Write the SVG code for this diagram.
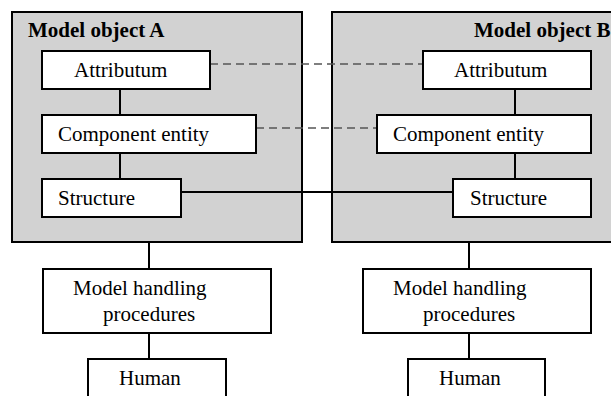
<svg xmlns="http://www.w3.org/2000/svg" width="611" height="396" viewBox="0 0 611 396">
  <style>
    .group { fill: #d2d2d2; stroke: #000; stroke-width: 2; }
    .box { fill: #fff; stroke: #000; stroke-width: 2; }
    .lbl { font-family: "Liberation Serif", "Times New Roman", serif; font-size: 21px; fill: #000; }
    .title { font-family: "Liberation Serif", "Times New Roman", serif; font-size: 21px; font-weight: bold; fill: #000; }
    .link { stroke: #000; stroke-width: 2; fill: none; }
    .dash { stroke: #555; stroke-width: 1.3; stroke-dasharray: 8 5; fill: none; }
  </style>
  <rect width="611" height="396" fill="#fff"/>

  <!-- containers -->
  <g id="model-object-a">
    <rect class="group" x="12" y="12" width="290" height="230"/>
    <text class="title" x="28" y="37">Model object A</text>
  </g>
  <g id="model-object-b">
    <rect class="group" x="332" y="12" width="300" height="230"/>
    <text class="title" x="474" y="37">Model object B</text>
  </g>

  <!-- connectors -->
  <g id="connectors">
    <line class="dash" x1="210" y1="64" x2="423" y2="64"/>
    <line class="dash" x1="256" y1="128" x2="377" y2="128"/>
    <line class="link" x1="181" y1="192" x2="453" y2="192"/>
    <line class="link" x1="120" y1="89" x2="120" y2="115"/>
    <line class="link" x1="120" y1="153" x2="120" y2="179"/>
    <line class="link" x1="515" y1="89" x2="515" y2="115"/>
    <line class="link" x1="515" y1="153" x2="515" y2="179"/>
    <line class="link" x1="149" y1="242" x2="149" y2="269"/>
    <line class="link" x1="149" y1="333" x2="149" y2="359"/>
    <line class="link" x1="469" y1="242" x2="469" y2="269"/>
    <line class="link" x1="469" y1="333" x2="469" y2="359"/>
  </g>

  <!-- nodes of A -->
  <g id="attributum-a">
    <rect class="box" x="42" y="51" width="168" height="38"/>
    <text class="lbl" x="74" y="77">Attributum</text>
  </g>
  <g id="component-a">
    <rect class="box" x="42" y="115" width="214" height="38"/>
    <text class="lbl" x="58" y="141">Component entity</text>
  </g>
  <g id="structure-a">
    <rect class="box" x="42" y="179" width="139" height="38"/>
    <text class="lbl" x="58" y="205">Structure</text>
  </g>

  <!-- nodes of B -->
  <g id="attributum-b">
    <rect class="box" x="423" y="51" width="168" height="38"/>
    <text class="lbl" x="454" y="77">Attributum</text>
  </g>
  <g id="component-b">
    <rect class="box" x="377" y="115" width="214" height="38"/>
    <text class="lbl" x="393" y="141">Component entity</text>
  </g>
  <g id="structure-b">
    <rect class="box" x="453" y="179" width="138" height="38"/>
    <text class="lbl" x="470" y="205">Structure</text>
  </g>

  <!-- handling procedures -->
  <g id="handling-a">
    <rect class="box" x="43" y="269" width="228" height="64"/>
    <text class="lbl" x="73" y="295">Model handling</text>
    <text class="lbl" x="103" y="321">procedures</text>
  </g>
  <g id="handling-b">
    <rect class="box" x="363" y="269" width="228" height="64"/>
    <text class="lbl" x="393" y="295">Model handling</text>
    <text class="lbl" x="423" y="321">procedures</text>
  </g>

  <!-- humans -->
  <g id="human-a">
    <rect class="box" x="88" y="359" width="138" height="60"/>
    <text class="lbl" x="119" y="385">Human</text>
  </g>
  <g id="human-b">
    <rect class="box" x="408" y="359" width="137" height="60"/>
    <text class="lbl" x="439" y="385">Human</text>
  </g>
</svg>
